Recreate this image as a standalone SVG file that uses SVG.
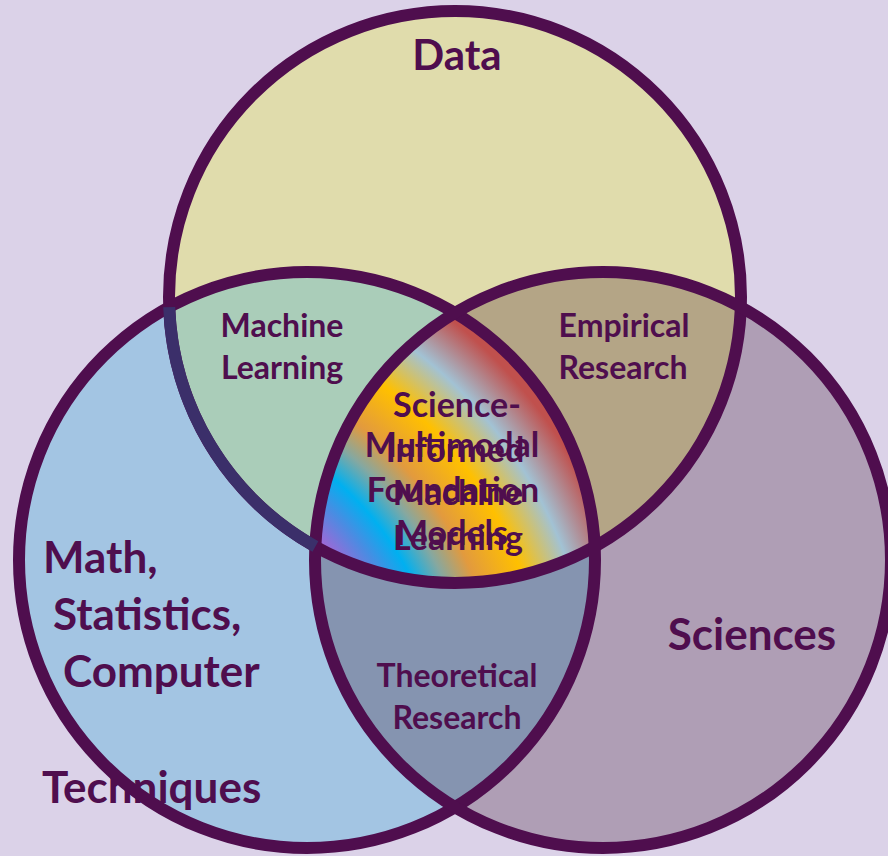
<svg xmlns="http://www.w3.org/2000/svg" width="888" height="856" viewBox="0 0 888 856">
  <style>
    .lbl { font-family: Lato, "Open Sans", "Liberation Sans", sans-serif; font-weight: 700; fill: #4F0E4E; }
    .mid { text-anchor: middle; }
    .ring { fill: none; stroke: #4F0E4E; stroke-width: 12; }
  </style>
  <defs>
    <clipPath id="cT"><circle cx="455" cy="297" r="286"/></clipPath>
    <clipPath id="cL"><circle cx="307" cy="560" r="288"/></clipPath>
    <clipPath id="cR"><circle cx="603" cy="560" r="288"/></clipPath>
    <radialGradient id="rainbow" gradientUnits="userSpaceOnUse" cx="140" cy="710" r="520">
      <stop offset="0" stop-color="#A060D6"/>
      <stop offset="0.47" stop-color="#A466D6"/>
      <stop offset="0.53" stop-color="#4A8CE2"/>
      <stop offset="0.58" stop-color="#00B0F0"/>
      <stop offset="0.635" stop-color="#86A8A0"/>
      <stop offset="0.69" stop-color="#E29A3E"/>
      <stop offset="0.78" stop-color="#FFC000"/>
      <stop offset="0.87" stop-color="#A2C2D4"/>
      <stop offset="0.96" stop-color="#C0504D"/>
      <stop offset="1" stop-color="#C0504D"/>
    </radialGradient>
  </defs>

  <rect width="888" height="856" fill="#DBD2E8"/>

  <g id="circle-math"><circle cx="307" cy="560" r="288" fill="#A3C5E3"/></g>
  <g id="circle-sciences"><circle cx="603" cy="560" r="288" fill="#AF9EB5"/></g>
  <g id="circle-data"><circle cx="455" cy="297" r="286" fill="#E0DCAC"/></g>

  <g id="overlap-machine-learning" clip-path="url(#cT)"><circle cx="307" cy="560" r="288" fill="#AACDB9"/></g>
  <g id="overlap-empirical-research" clip-path="url(#cT)"><circle cx="603" cy="560" r="288" fill="#B4A586"/></g>
  <g id="overlap-theoretical-research" clip-path="url(#cL)"><circle cx="603" cy="560" r="288" fill="#8594B0"/></g>
  <g id="overlap-center" clip-path="url(#cT)"><g clip-path="url(#cL)"><circle cx="603" cy="560" r="288" fill="url(#rainbow)"/></g></g>

  <g id="connectors">
    <circle class="ring" cx="455" cy="297" r="286"/>
    <circle class="ring" cx="307" cy="560" r="288"/>
    <circle class="ring" cx="603" cy="560" r="288"/>
    <path d="M 169.2 307.1 A 286 286 0 0 0 315.4 546.5" fill="none" stroke="#3B2F6A" stroke-width="12"/>
  </g>

  <g id="labels">
    <text class="lbl mid" x="457" y="70" font-size="42">Data</text>
    <text class="lbl mid" x="282" y="337" font-size="32">Machine</text>
    <text class="lbl mid" x="282" y="379" font-size="32">Learning</text>
    <text class="lbl mid" x="624" y="337" font-size="32">Empirical</text>
    <text class="lbl mid" x="623" y="379" font-size="32">Research</text>
    <text class="lbl mid" x="457" y="687" font-size="32">Theoretical</text>
    <text class="lbl mid" x="457" y="729" font-size="32">Research</text>
    <text class="lbl mid" x="752" y="650" font-size="44">Sciences</text>
    <text class="lbl" x="43" y="573" font-size="44">Math,</text>
    <text class="lbl" x="53" y="630" font-size="44">Statistics,</text>
    <text class="lbl" x="63" y="687" font-size="44">Computer</text>
    <text class="lbl" x="42" y="803" font-size="44">Techniques</text>
    <text class="lbl mid" x="457" y="417" font-size="34">Science-</text>
    <text class="lbl mid" x="455" y="462" font-size="34">Informed</text>
    <text class="lbl mid" x="458" y="505" font-size="34">Machine</text>
    <text class="lbl mid" x="458" y="550" font-size="34">Learning</text>
    <text class="lbl mid" x="452" y="457" font-size="34">Multimodal</text>
    <text class="lbl mid" x="453" y="502" font-size="34">Foundation</text>
    <text class="lbl mid" x="452" y="545" font-size="34">Models</text>
  </g>
</svg>
